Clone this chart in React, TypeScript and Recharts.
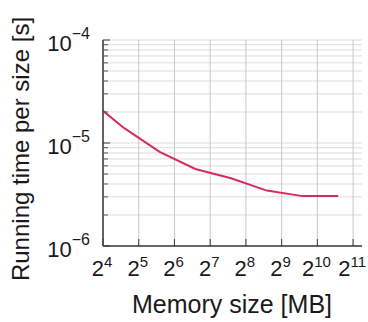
import React from 'react'
import { LineChart, Line, XAxis, YAxis, CartesianGrid } from 'recharts'

// memory size in MB and running time per size in seconds
const memorySizes = [16, 24, 48, 96, 192, 384, 768, 1536]
const runningTimes = [2.05e-5, 1.4e-5, 8.2e-6, 5.6e-6, 4.55e-6, 3.45e-6, 3.05e-6, 3.05e-6]

const xTicks = [16, 32, 64, 128, 256, 512, 1024, 2048]
const xTickExponents = ['4', '5', '6', '7', '8', '9', '10', '11']

const yTicks = [
  1e-6, 2e-6, 3e-6, 4e-6, 5e-6, 6e-6, 7e-6, 8e-6, 9e-6,
  1e-5, 2e-5, 3e-5, 4e-5, 5e-5, 6e-5, 7e-5, 8e-5, 9e-5,
  1e-4,
]
const yMajorTicks = [1e-6, 1e-5, 1e-4]
const yTickExponents = ['6', '5', '4']

const data = memorySizes.map((size, i) => ({ size, time: runningTimes[i] }))

const FONT = '"Liberation Sans", Arial, sans-serif'
const AXIS_COLOR = '#3a3a3a'

const XTick = (props: any) => {
  const { x, y, payload } = props
  const i = xTicks.indexOf(payload.value)
  return (
    <g>
      <line x1={x} x2={x} y1={y} y2={y - 7} stroke={AXIS_COLOR} strokeWidth={1} />
      <text x={x - 1} y={y + 30} textAnchor="middle" fontFamily={FONT} fontSize={22} fill="#1a1a1a">
        <tspan>2</tspan>
        <tspan dy={-9} fontSize={15}>{xTickExponents[i]}</tspan>
      </text>
    </g>
  )
}

const YTick = (props: any) => {
  const { x, y, payload } = props
  const i = yMajorTicks.indexOf(payload.value)
  if (i < 0) {
    return <line x1={x} x2={x + 5} y1={y} y2={y} stroke="#555" strokeWidth={1} />
  }
  return (
    <g>
      <line x1={x} x2={x + 7} y1={y} y2={y} stroke={AXIS_COLOR} strokeWidth={1} />
      <text x={x - 13} y={y + 11} textAnchor="end" fontFamily={FONT} fontSize={22} fill="#1a1a1a">
        <tspan>10</tspan>
        <tspan dy={-12} fontSize={16}>{'\u2212' + yTickExponents[i]}</tspan>
      </text>
    </g>
  )
}

const App: React.FC = () => {
  return (
    <div style={{ position: 'absolute', left: 0, top: 0, width: 368, height: 322, background: '#fff' }}>
      <LineChart width={368} height={322} data={data} margin={{ top: 40, right: 6, bottom: 46, left: 43 }}>
        <CartesianGrid vertical={false} horizontalValues={yTicks} stroke="#dcdcdc" strokeWidth={1} />
        <CartesianGrid horizontal={false} verticalValues={xTicks} stroke="#c8c8c8" strokeWidth={1} />
        <XAxis
          dataKey="size"
          type="number"
          scale="log"
          domain={[16, 2435]}
          allowDataOverflow
          ticks={xTicks}
          interval={0}
          height={30}
          tickSize={0}
          tickMargin={0}
          tickLine={false}
          tick={<XTick />}
          axisLine={{ stroke: AXIS_COLOR, strokeWidth: 1.5 }}
          label={{
            content: () => (
              <text x={232} y={313} textAnchor="middle" fontFamily={FONT} fontSize={25} fill="#1a1a1a">
                Memory size [MB]
              </text>
            ),
          }}
        />
        <YAxis
          type="number"
          scale="log"
          domain={[1e-6, 1e-4]}
          allowDataOverflow
          ticks={yTicks}
          interval={0}
          width={60}
          tickSize={0}
          tickMargin={0}
          tickLine={false}
          tick={<YTick />}
          axisLine={{ stroke: AXIS_COLOR, strokeWidth: 1.5 }}
          label={{
            content: () => (
              <text
                transform="translate(29,149) rotate(-90)"
                textAnchor="middle"
                fontFamily={FONT}
                fontSize={24}
                fill="#1a1a1a"
              >
                Running time per size [s]
              </text>
            ),
          }}
        />
        <Line
          type="linear"
          dataKey="time"
          stroke="#d62c5c"
          strokeWidth={2}
          dot={false}
          isAnimationActive={false}
        />
      </LineChart>
    </div>
  )
}

export default App
